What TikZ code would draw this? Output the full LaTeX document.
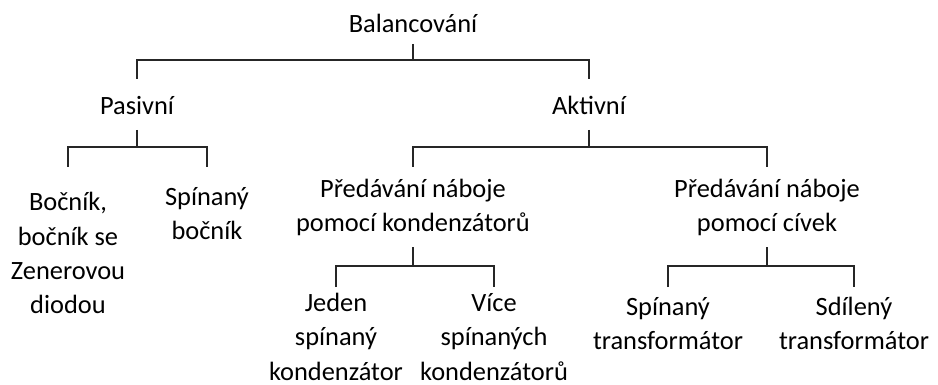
\documentclass[tikz,border=0pt]{standalone}
\usepackage{fontspec}
\setmainfont{Carlito}
\usepackage{tikz}
\usetikzlibrary{positioning}

\begin{document}
\begin{tikzpicture}[
    x=0.5pt, y=-0.5pt,
    % --- STYLES ---
    label/.style={
        anchor=base, inner sep=0pt,
        align=center, font=\fontsize{13.2}{17.2}\selectfont
    },
    tree/.style={line width=1pt, black!85}
]
\useasboundingbox (0,0) rectangle (938,385);

% ===== 1. ROOT & LEVEL 1 =====
% (base = účaří posledního řádku)
\node[label] (bal) at (413, 33) {Balancování};

\node[label] (pas) at (137, 115) {Pasivní};
\node[label] (akt) at (589, 115) {Aktivní};

% ===== 2. LEVEL 2 =====
% Pasivní větev
\node[label] (boc) at (68, 314) {Bočník,\\ bočník se\\ Zenerovou\\ diodou};
\node[label] (sbo) at (207, 240) {Spínaný\\ bočník};

% Aktivní větev
\node[label] (kon) at (413, 232) {Předávání náboje\\ pomocí kondenzátorů};
\node[label] (civ) at (767, 232) {Předávání náboje\\ pomocí cívek};

% ===== 3. LEVEL 3 =====
\node[label] (jed) at (336, 380) {Jeden\\ spínaný\\ kondenzátor};
\node[label] (vic) at (494, 380) {Více\\ spínaných\\ kondenzátorů};

\node[label] (stf) at (668, 350) {Spínaný\\ transformátor};
\node[label] (dtf) at (854, 350) {Sdílený\\ transformátor};

% ===== 4. CONNECTIONS =====
\coordinate (j0) at (413, 60);
\coordinate (j1) at (137, 147);
\coordinate (j2) at (589, 147);
\coordinate (j3) at (413, 266);
\coordinate (j4) at (767, 266);

% Balancování -> Pasivní / Aktivní
\draw[tree] ([yshift=-5.5pt]bal.base) -- (j0);
\draw[tree] ([yshift=18pt]pas.base) |- (j0) -| ([yshift=18pt]akt.base);

% Pasivní -> děti
\draw[tree] ([yshift=-7.5pt]pas.base) -- (j1);
\draw[tree] ([yshift=73.5pt]boc.base) |- (j1) -| ([yshift=36.5pt]sbo.base);

% Aktivní -> děti
\draw[tree] ([yshift=-7.5pt]akt.base) -- (j2);
\draw[tree] ([yshift=32.5pt]kon.base) |- (j2) -| ([yshift=32.5pt]civ.base);

% Kondenzátory -> děti
\draw[tree] ([yshift=-7.5pt]kon.base) -- (j3);
\draw[tree] ([yshift=46.5pt]jed.base) |- (j3) -| ([yshift=46.5pt]vic.base);

% Cívky -> děti
\draw[tree] ([yshift=-7.5pt]civ.base) -- (j4);
\draw[tree] ([yshift=31.5pt]stf.base) |- (j4) -| ([yshift=31.5pt]dtf.base);

\end{tikzpicture}
\end{document}
